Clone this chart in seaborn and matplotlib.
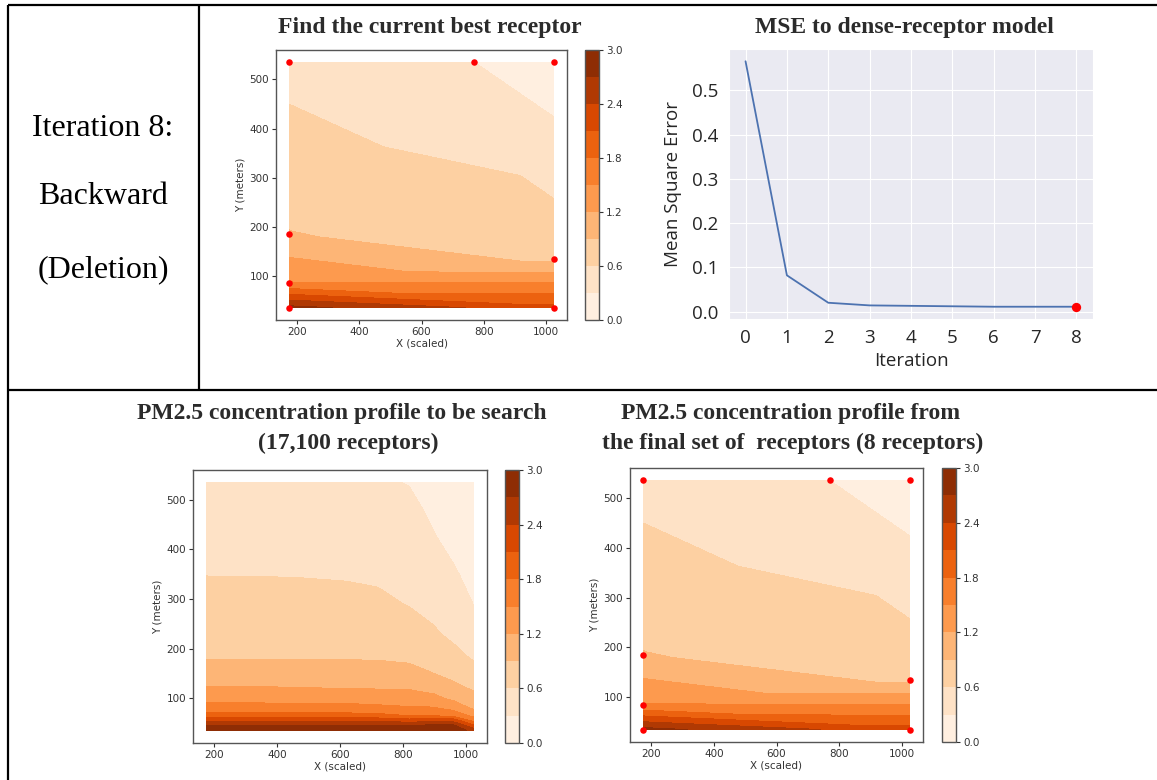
import numpy as np
import matplotlib
matplotlib.use("Agg")
import matplotlib.pyplot as plt
import matplotlib.tri as mtri
from matplotlib.lines import Line2D
import seaborn as sns

# ---------------- data ----------------
# Receptors kept after the backward (deletion) step, with their PM2.5 values
receptor_x = [175, 770, 1025, 175, 175, 175, 1025, 1025]
receptor_y = [535, 535, 535, 185, 85, 35, 135, 35]
receptor_pm = [0.50, 0.30, 0.10, 0.91, 1.52, 2.80, 0.82, 2.20]

# Dense-receptor reference field (coarse grid of the 17,100-receptor profile)
dense_x = [175, 450, 620, 720, 820, 900, 960, 1025]
dense_y = [35, 45, 55, 65, 80, 100, 125, 150, 180, 230, 290, 350, 420, 480, 535]
dense_pm = [
    [2.95, 2.95, 2.95, 2.95, 2.95, 2.95, 2.90, 2.60],
    [2.74, 2.74, 2.74, 2.74, 2.72, 2.78, 2.78, 2.15],
    [2.35, 2.35, 2.35, 2.35, 2.25, 2.33, 2.30, 1.71],
    [1.91, 1.91, 1.91, 1.89, 1.80, 1.78, 1.73, 1.43],
    [1.62, 1.62, 1.62, 1.58, 1.535, 1.53, 1.41, 1.16],
    [1.40, 1.39, 1.37, 1.35, 1.34, 1.27, 1.14, 1.00],
    [1.19, 1.18, 1.15, 1.15, 1.14, 1.07, 0.95, 0.836],
    [1.05, 1.05, 1.025, 1.02, 0.99, 0.90, 0.82, 0.713],
    [0.895, 0.894, 0.89, 0.885, 0.86, 0.80, 0.69, 0.58],
    [0.805, 0.80, 0.79, 0.78, 0.73, 0.63, 0.545, 0.449],
    [0.697, 0.69, 0.676, 0.655, 0.588, 0.52, 0.436, 0.296],
    [0.594, 0.59, 0.577, 0.558, 0.516, 0.425, 0.327, 0.236],
    [0.528, 0.518, 0.498, 0.472, 0.432, 0.316, 0.242, 0.165],
    [0.472, 0.456, 0.431, 0.398, 0.36, 0.252, 0.178, 0.105],
    [0.42, 0.40, 0.37, 0.33, 0.29, 0.20, 0.12, 0.05],
]

# MSE of each iteration's receptor set against the dense-receptor model
iterations = [0, 1, 2, 3, 4, 5, 6, 7, 8]
mse = [0.566, 0.082, 0.020, 0.014, 0.013, 0.012, 0.011, 0.011, 0.011]

levels = [0.0, 0.3, 0.6, 0.9, 1.2, 1.5, 1.8, 2.1, 2.4, 2.7, 3.0]
cbar_ticks = [0.0, 0.6, 1.2, 1.8, 2.4, 3.0]

row_labels = ["Iteration 8:", "Backward", "(Deletion)"]

# ---------------- styling ----------------
sns.set_style("ticks")
plt.rcParams["font.family"] = ["DejaVu Sans"]

W, H = 1157, 780
fig = plt.figure(figsize=(W / 100, H / 100), dpi=100)
fig.patch.set_facecolor("white")


def box(x0, y0, x1, y1):
    """Axes rectangle from pixel corners (top-left origin)."""
    return [x0 / W, 1 - y1 / H, (x1 - x0) / W, (y1 - y0) / H]


def px(x, y):
    return x / W, 1 - y / H


TXT = "#333333"
title_kw = dict(family=["Liberation Serif"], weight="bold", fontsize=17,
                color="#2b2b2b", ha="center", va="center")


def padded(lo, hi, frac=0.05):
    span = hi - lo
    return lo - frac * span, hi + frac * span


def style_map_axes(ax, cax, cs, xs, ys):
    ax.set_xlim(*padded(min(xs), max(xs)))
    ax.set_ylim(*padded(min(ys), max(ys)))
    ax.set_xlabel("X (scaled)", fontsize=7.5, color=TXT, labelpad=1)
    ax.set_ylabel("Y (meters)", fontsize=7.5, color=TXT, labelpad=3)
    ax.set_xticks([200, 400, 600, 800, 1000])
    ax.set_yticks([100, 200, 300, 400, 500])
    ax.tick_params(labelsize=7.5, colors=TXT, length=3, width=0.8, pad=2)
    for s in ax.spines.values():
        s.set_color("#555555")
        s.set_linewidth(1.0)
    cb = fig.colorbar(cs, cax=cax, ticks=cbar_ticks, format="%.1f")
    cb.outline.set_edgecolor("#555555")
    cb.outline.set_linewidth(1.0)
    cax.tick_params(labelsize=7.5, colors=TXT, length=3, width=0.8, pad=2)


def receptor_map(ax, cax):
    tri = mtri.Triangulation(receptor_x, receptor_y)
    cs = ax.tricontourf(tri, receptor_pm, levels=levels, cmap="Oranges")
    sns.scatterplot(x=receptor_x, y=receptor_y, ax=ax, color="red", s=22,
                    linewidth=0, zorder=5, legend=False)
    style_map_axes(ax, cax, cs, receptor_x, receptor_y)


# ---- top left: current best receptor set ----
ax1 = fig.add_axes(box(276, 50, 567, 320))
cax1 = fig.add_axes(box(585, 50, 599, 320))
receptor_map(ax1, cax1)
fig.text(*px(430, 28), "Find the current best receptor", **title_kw)

# ---- top right: MSE curve ----
with sns.axes_style("darkgrid"):
    ax2 = fig.add_axes(box(729, 49, 1093, 319))
sns.lineplot(x=iterations, y=mse, ax=ax2, color="#4c72b0", linewidth=1.3)
sns.scatterplot(x=[iterations[-1]], y=[mse[-1]], ax=ax2, color="red", s=45,
                linewidth=0, zorder=5, legend=False)
ax2.set_xticks(iterations)
ax2.set_yticks([0.0, 0.1, 0.2, 0.3, 0.4, 0.5])
ax2.set_yticklabels([f"{v:.1f}" for v in [0.0, 0.1, 0.2, 0.3, 0.4, 0.5]])
ax2.tick_params(labelsize=13.5, colors="#262626", pad=4)
for lab in ax2.get_xticklabels() + ax2.get_yticklabels():
    lab.set_family(["Open Sans"])
ax2.set_xlabel("Iteration", fontsize=13.5, family=["Open Sans"], color="#262626", labelpad=3)
ax2.set_ylabel("Mean Square Error", fontsize=13.5, family=["Open Sans"], color="#262626", labelpad=7)
fig.text(*px(904, 28), "MSE to dense-receptor model", **title_kw)

# ---- bottom left: dense-receptor profile ----
ax3 = fig.add_axes(box(193, 470, 487, 743))
cax3 = fig.add_axes(box(505, 470, 519, 743))
cs3 = ax3.contourf(dense_x, dense_y, np.array(dense_pm), levels=levels, cmap="Oranges")
style_map_axes(ax3, cax3, cs3, dense_x, dense_y)
fig.text(*px(342, 413), "PM2.5 concentration profile to be search", **title_kw)
fig.text(*px(348, 443), "(17,100 receptors)", **title_kw)

# ---- bottom right: final receptor set ----
ax4 = fig.add_axes(box(630, 468, 923, 742))
cax4 = fig.add_axes(box(942, 468, 956, 742))
receptor_map(ax4, cax4)
fig.text(*px(791, 413), "PM2.5 concentration profile from", **title_kw)
fig.text(*px(793, 443), "the final set of  receptors (8 receptors)", **title_kw)

# ---- row label in the left cell ----
for label, yy in zip(row_labels, [128, 197, 270]):
    fig.text(*px(103, yy), label, family=["Liberation Serif"], fontsize=23,
             color="black", ha="center", va="center")

# ---- table rules ----
rule = dict(transform=fig.transFigure, color="black", linewidth=1.6, solid_capstyle="butt")
fig.add_artist(Line2D([8 / W, 1], [1 - 5 / H, 1 - 5 / H], **rule))
fig.add_artist(Line2D([8 / W, 1], [1 - 390 / H, 1 - 390 / H], **rule))
fig.add_artist(Line2D([8 / W, 8 / W], [1 - 5 / H, 0], **rule))
fig.add_artist(Line2D([199 / W, 199 / W], [1 - 5 / H, 1 - 390 / H], **rule))

fig.savefig("out.png", dpi=100, facecolor="white")
